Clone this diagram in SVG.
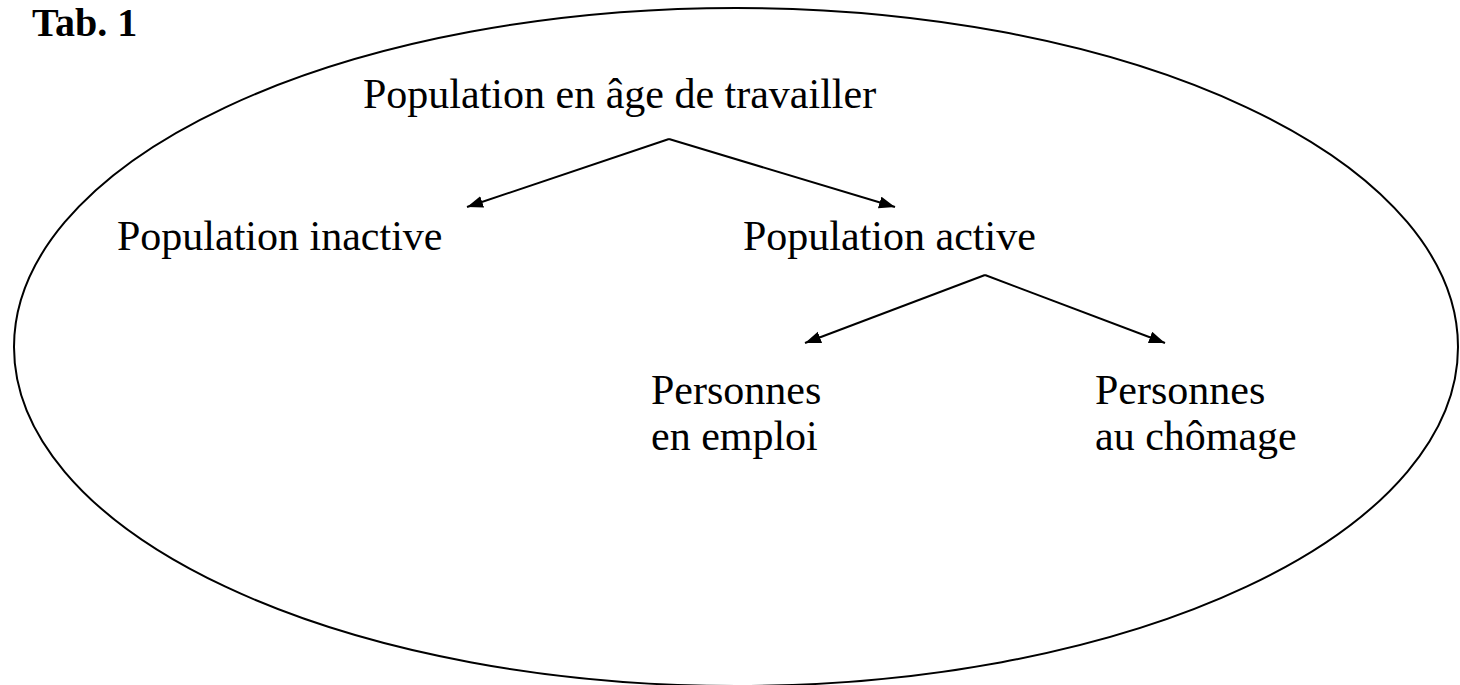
<svg xmlns="http://www.w3.org/2000/svg" width="1460" height="685" viewBox="0 0 1460 685">
<style>
.t{font-family:"Liberation Serif","Times New Roman",serif;font-size:42px;fill:#000}
.b{font-family:"Liberation Serif","Times New Roman",serif;font-size:40px;font-weight:bold;fill:#000}
.c{stroke:#000;stroke-width:2;fill:none}
</style>
<defs>
<marker id="ah" markerWidth="18" markerHeight="14" refX="16" refY="6" orient="auto" markerUnits="userSpaceOnUse">
<path d="M0,0 L16,6 L0,12 z" fill="#000"/>
</marker>
</defs>
<rect width="1460" height="685" fill="#fff"/>
<text class="b" x="32" y="36">Tab. 1</text>
<ellipse cx="736" cy="347" rx="722" ry="339" fill="none" stroke="#000" stroke-width="2"/>
<g id="n-age"><text class="t" x="363" y="108">Population en âge de travailler</text></g>
<g id="n-inactive"><text class="t" x="117" y="250">Population inactive</text></g>
<g id="n-active"><text class="t" x="743" y="250">Population active</text></g>
<g id="n-emploi"><text class="t" x="651" y="404">Personnes</text><text class="t" x="651" y="450">en emploi</text></g>
<g id="n-chomage"><text class="t" x="1095" y="404">Personnes</text><text class="t" x="1095" y="450">au chômage</text></g>
<g id="connectors">
<line class="c" x1="669" y1="139" x2="467" y2="207" marker-end="url(#ah)"/>
<line class="c" x1="669" y1="139" x2="895" y2="207" marker-end="url(#ah)"/>
<line class="c" x1="985" y1="275" x2="805" y2="343" marker-end="url(#ah)"/>
<line class="c" x1="985" y1="275" x2="1165" y2="343" marker-end="url(#ah)"/>
</g>
</svg>
